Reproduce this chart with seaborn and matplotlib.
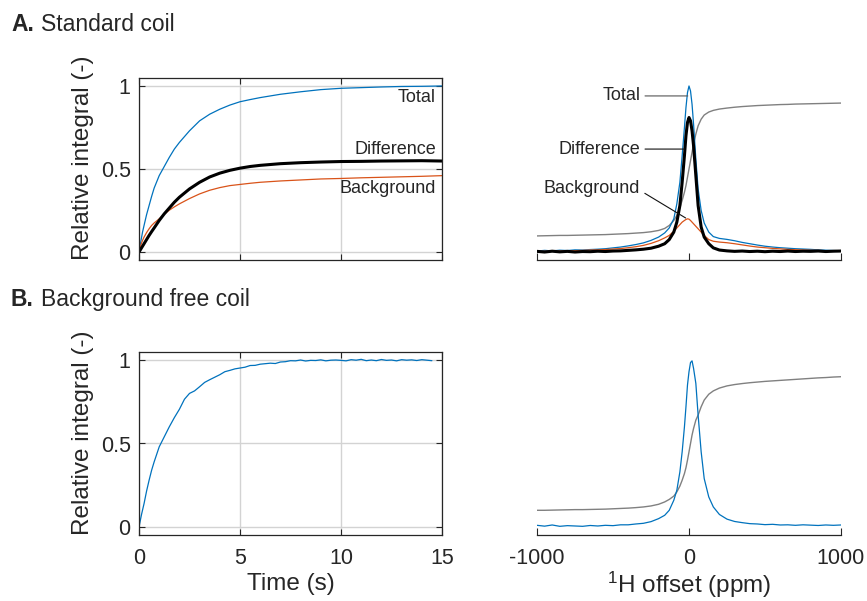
import matplotlib
matplotlib.use("Agg")
import matplotlib.pyplot as plt
import seaborn as sns

# ---------------- data ----------------
# Panel A (left): build-up curves, standard coil
time_a = [0, 0.05, 0.1, 0.175, 0.25, 0.375, 0.5, 0.625, 0.75, 1.0, 1.25, 1.5, 1.75, 2.0, 2.5,
          3.0, 3.5, 4.0, 4.5, 5.0, 5.5, 6.0, 7.0, 8.0, 9.0, 10.0, 11.0, 12.0, 13.0, 14.0, 15.0]
total_a = [0.0, 0.035, 0.07, 0.12, 0.16, 0.225, 0.28, 0.335, 0.385, 0.46, 0.515, 0.57, 0.62,
           0.66, 0.73, 0.79, 0.83, 0.86, 0.885, 0.905, 0.918, 0.93, 0.95, 0.965, 0.978, 0.986,
           0.99, 0.994, 0.997, 0.998, 1.0]
difference_a = [0.0, 0.01, 0.02, 0.035, 0.05, 0.075, 0.10, 0.123, 0.145, 0.19, 0.23, 0.265, 0.30,
                0.33, 0.38, 0.42, 0.452, 0.475, 0.492, 0.505, 0.515, 0.522, 0.532, 0.538, 0.542,
                0.545, 0.546, 0.548, 0.549, 0.55, 0.548]
background_a = [0.0, 0.025, 0.045, 0.07, 0.09, 0.117, 0.14, 0.16, 0.175, 0.20, 0.228, 0.252,
                0.272, 0.29, 0.322, 0.35, 0.372, 0.388, 0.40, 0.407, 0.414, 0.42, 0.428, 0.434,
                0.44, 0.443, 0.447, 0.45, 0.453, 0.456, 0.46]

# Panel B (left): build-up curve, background free coil
time_b = [0, 0.125, 0.25, 0.375, 0.5, 0.625, 0.75, 1.0, 1.25, 1.5, 1.75, 2.0, 2.25, 2.5, 2.75,
          3.0, 3.25, 3.5, 3.75, 4.0, 4.25, 4.5, 4.75, 5.0, 5.25, 5.5, 5.75, 6.0, 6.25, 6.5, 6.75,
          7.0, 7.25, 7.5, 7.75, 8.0, 8.25, 8.5, 8.75, 9.0, 9.25, 9.5, 9.75, 10.0, 10.25, 10.5,
          10.75, 11.0, 11.25, 11.5, 11.75, 12.0, 12.25, 12.5, 12.75, 13.0, 13.25, 13.5, 13.75,
          14.0, 14.25, 14.5]
total_b = [0.0, 0.075, 0.14, 0.215, 0.28, 0.34, 0.39, 0.48, 0.54, 0.60, 0.655, 0.705, 0.765,
           0.80, 0.815, 0.84, 0.866, 0.882, 0.897, 0.912, 0.93, 0.938, 0.947, 0.952, 0.957,
           0.967, 0.968, 0.975, 0.978, 0.981, 0.979, 0.988, 0.99, 0.996, 0.995, 1.0, 0.994,
           0.998, 0.997, 1.001, 0.995, 0.999, 1.0, 0.998, 0.995, 1.002, 0.999, 1.004, 0.996,
           1.0, 0.996, 1.003, 0.998, 1.0, 0.995, 1.002, 0.999, 1.001, 0.997, 1.002, 0.999, 0.996]

time_ticks = [0, 5, 10, 15]
frac_ticks = [0, 0.5, 1]
frac_labels = ["0", "0.5", "1"]

# Spectra (right): shared 1H offset grid (ppm)
ppm = [-1000, -950, -900, -850, -800, -750, -700, -650, -600, -550, -500, -450, -400, -350,
       -300, -250, -200, -160, -130, -100, -80, -60, -45, -30, -20, -10, 0, 10, 20, 30, 45,
       60, 80, 100, 130, 160, 200, 250, 300, 350, 400, 450, 500, 550, 600, 650, 700, 750,
       800, 850, 900, 950, 1000]
spec_total_a = [0.006, 0.01, 0.007, 0.011, 0.009, 0.013, 0.012, 0.015, 0.017, 0.02, 0.025, 0.03,
                0.037, 0.045, 0.055, 0.07, 0.09, 0.115, 0.145, 0.2, 0.29, 0.42, 0.58, 0.75, 0.87,
                0.96, 1.0, 0.97, 0.89, 0.77, 0.56, 0.38, 0.25, 0.175, 0.12, 0.093, 0.082, 0.076,
                0.068, 0.058, 0.05, 0.042, 0.035, 0.03, 0.026, 0.023, 0.02, 0.018, 0.016, 0.013,
                0.011, 0.009, 0.008]
spec_difference_a = [0.004, 0.0, 0.005, 0.001, 0.004, 0.0, 0.003, 0.002, 0.005, 0.003, 0.006,
                     0.007, 0.01, 0.013, 0.017, 0.023, 0.035, 0.05, 0.075, 0.12, 0.18, 0.28, 0.42,
                     0.58, 0.70, 0.78, 0.81, 0.79, 0.73, 0.64, 0.46, 0.28, 0.15, 0.09, 0.05, 0.025,
                     0.012, 0.007, 0.004, 0.006, 0.003, 0.005, 0.002, 0.005, 0.003, 0.006, 0.003,
                     0.005, 0.004, 0.006, 0.003, 0.005, 0.006]
spec_background_a = [0.003, 0.005, 0.004, 0.006, 0.007, 0.008, 0.01, 0.012, 0.013, 0.015, 0.018,
                     0.021, 0.026, 0.032, 0.04, 0.052, 0.068, 0.085, 0.10, 0.125, 0.145, 0.165,
                     0.18, 0.19, 0.196, 0.20, 0.198, 0.19, 0.18, 0.17, 0.155, 0.14, 0.12, 0.10,
                     0.075, 0.065, 0.06, 0.056, 0.05, 0.043, 0.036, 0.03, 0.026, 0.022, 0.019,
                     0.016, 0.014, 0.012, 0.011, 0.01, 0.008, 0.007, 0.006]
spec_integral_a = [0.097, 0.098, 0.099, 0.1, 0.1, 0.101, 0.102, 0.103, 0.104, 0.105, 0.107, 0.109,
                   0.111, 0.114, 0.117, 0.122, 0.13, 0.142, 0.16, 0.19, 0.22, 0.27, 0.31, 0.36,
                   0.40, 0.45, 0.50, 0.55, 0.60, 0.65, 0.71, 0.76, 0.80, 0.825, 0.843, 0.853,
                   0.861, 0.867, 0.872, 0.876, 0.879, 0.882, 0.884, 0.886, 0.888, 0.889, 0.891,
                   0.892, 0.893, 0.894, 0.895, 0.896, 0.897]
spec_total_b = [0.01, 0.005, 0.012, 0.004, 0.008, 0.006, 0.004, 0.009, 0.006, 0.01, 0.008, 0.013,
                0.013, 0.018, 0.022, 0.032, 0.05, 0.07, 0.10, 0.16, 0.22, 0.33, 0.45, 0.60, 0.72,
                0.85, 0.93, 0.985, 0.995, 0.95, 0.86, 0.67, 0.45, 0.29, 0.18, 0.12, 0.075, 0.047,
                0.033, 0.026, 0.02, 0.018, 0.014, 0.016, 0.012, 0.013, 0.01, 0.013, 0.011, 0.009,
                0.012, 0.01, 0.012]
spec_integral_b = [0.1, 0.1, 0.101, 0.102, 0.103, 0.104, 0.104, 0.105, 0.106, 0.107, 0.109, 0.111,
                   0.113, 0.116, 0.12, 0.126, 0.136, 0.15, 0.165, 0.185, 0.21, 0.245, 0.28, 0.32,
                   0.355, 0.40, 0.45, 0.50, 0.55, 0.59, 0.64, 0.67, 0.72, 0.76, 0.795, 0.815,
                   0.832, 0.845, 0.853, 0.859, 0.864, 0.868, 0.872, 0.875, 0.878, 0.881, 0.884,
                   0.887, 0.89, 0.893, 0.895, 0.898, 0.9]
ppm_ticks = [-1000, 0, 1000]
ppm_labels = ["-1000", "0", "1000"]

# ---------------- style ----------------
BLUE = "#0072BD"
ORANGE = "#D95319"
BLACK = "#000000"
GRAY = "#808080"
AXC = "#262626"

sns.set_style("white")
plt.rcParams["font.family"] = ["Liberation Sans", "DejaVu Sans"]
plt.rcParams["mathtext.fontset"] = "custom"
plt.rcParams["mathtext.rm"] = "Liberation Sans"
plt.rcParams["mathtext.it"] = "Liberation Sans:italic"
plt.rcParams["mathtext.bf"] = "Liberation Sans:bold"

TICK_FS = 15.5
LABEL_FS = 17.5
ANN_FS = 13
TITLE_FS = 16.5

W, H = 867, 601
fig = plt.figure(figsize=(W / 100, H / 100), dpi=100)


def add_ax(l, t, r, b):
    return fig.add_axes([l / W, 1 - b / H, (r - l) / W, (b - t) / H])


axA = add_ax(139, 78, 442, 260)
axB = add_ax(139, 352, 442, 535)
axC = add_ax(537, 78, 841, 260)
axD = add_ax(537, 352, 841, 535)


def line(ax, x, y, color, lw):
    sns.lineplot(x=x, y=y, ax=ax, color=color, linewidth=lw, estimator=None, sort=False)


def style_time(ax, show_x):
    ax.set_xlim(0, 15)
    ax.set_ylim(-0.048, 1.048)
    ax.set_xticks(time_ticks)
    ax.set_yticks(frac_ticks)
    ax.set_yticklabels(frac_labels)
    ax.grid(True, color="#d3d3d3", linewidth=1.0)
    ax.set_axisbelow(True)
    for s in ax.spines.values():
        s.set_visible(True)
        s.set_color(AXC)
        s.set_linewidth(0.9)
    ax.tick_params(direction="in", length=4, width=0.8, bottom=True, left=True, top=True,
                   right=True, colors=AXC, labelsize=TICK_FS)
    ax.tick_params(axis="x", pad=9)
    ax.tick_params(axis="y", pad=6)
    ax.set_ylabel("Relative integral (-)", fontsize=LABEL_FS, color=AXC)
    ax.yaxis.set_label_coords(-0.15, 0.56)
    if show_x:
        ax.set_xlabel("Time (s)", fontsize=LABEL_FS, color=AXC)
        ax.xaxis.set_label_coords(0.5, -0.205)
    else:
        ax.set_xlabel("")
        ax.tick_params(labelbottom=False)


def style_spec(ax, show_x):
    ax.set_xlim(-1000, 1000)
    ax.set_ylim(-0.048, 1.048)
    ax.set_xticks(ppm_ticks)
    ax.set_yticks([])
    ax.grid(False)
    for k in ["left", "right", "top"]:
        ax.spines[k].set_visible(False)
    ax.spines["bottom"].set_color(AXC)
    ax.spines["bottom"].set_linewidth(0.9)
    ax.tick_params(axis="x", direction="in", length=5, width=0.8, bottom=True, top=False,
                   colors=AXC, labelsize=TICK_FS, pad=9)
    ax.set_ylabel("")
    if show_x:
        ax.set_xticklabels(ppm_labels)
        ax.set_xlabel("$^{1}$H offset (ppm)", fontsize=LABEL_FS, color=AXC)
        ax.xaxis.set_label_coords(0.5, -0.19)
    else:
        ax.set_xlabel("")
        ax.tick_params(labelbottom=False)


# Panel A left
line(axA, time_a, total_a, BLUE, 0.9)
line(axA, time_a, background_a, ORANGE, 0.9)
line(axA, time_a, difference_a, BLACK, 2.2)
style_time(axA, False)
axA.text(14.7, 0.93, "Total", ha="right", va="center", fontsize=ANN_FS, color=AXC)
axA.text(14.7, 0.62, "Difference", ha="right", va="center", fontsize=ANN_FS, color=AXC)
axA.text(14.7, 0.38, "Background", ha="right", va="center", fontsize=ANN_FS, color=AXC)

# Panel B left
line(axB, time_b, total_b, BLUE, 0.9)
style_time(axB, True)

# Panel A right (spectra)
line(axC, ppm, spec_integral_a, GRAY, 1.0)
line(axC, ppm, spec_total_a, BLUE, 0.9)
line(axC, ppm, spec_background_a, ORANGE, 0.9)
line(axC, ppm, spec_difference_a, BLACK, 2.2)
style_spec(axC, False)
axC.annotate("Total", xy=(-8, 0.94), xytext=(-320, 0.94), ha="right", va="center",
             fontsize=ANN_FS, color=AXC,
             arrowprops=dict(arrowstyle="-", color="#555555", lw=0.8,
                             relpos=(1, 0.5), shrinkA=1, shrinkB=0))
axC.annotate("Difference", xy=(-30, 0.62), xytext=(-320, 0.62), ha="right", va="center",
             fontsize=ANN_FS, color=AXC,
             arrowprops=dict(arrowstyle="-", color="#111111", lw=0.8,
                             relpos=(1, 0.5), shrinkA=1, shrinkB=0))
axC.annotate("Background", xy=(-22, 0.205), xytext=(-320, 0.38), ha="right", va="center",
             fontsize=ANN_FS, color=AXC,
             arrowprops=dict(arrowstyle="-", color="#111111", lw=0.8,
                             relpos=(1, 0.4), shrinkA=1, shrinkB=0))

# Panel B right (spectrum)
line(axD, ppm, spec_integral_b, GRAY, 1.0)
line(axD, ppm, spec_total_b, BLUE, 0.9)
style_spec(axD, True)

# Panel titles
fig.text(11 / W, 1 - 31 / H, "A.", fontsize=TITLE_FS, fontweight="bold", va="baseline", color=AXC)
fig.text(41 / W, 1 - 31 / H, "Standard coil", fontsize=TITLE_FS, va="baseline", color=AXC)
fig.text(11 / W, 1 - 306 / H, "B.", fontsize=TITLE_FS, fontweight="bold", va="baseline", color=AXC)
fig.text(41 / W, 1 - 306 / H, "Background free coil", fontsize=TITLE_FS, va="baseline", color=AXC)

fig.savefig("out.png", dpi=100)
